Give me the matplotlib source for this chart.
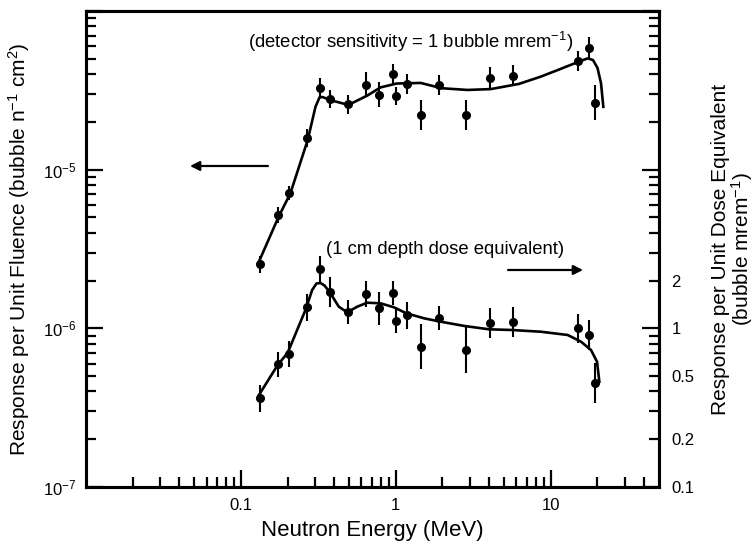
import numpy as np
import matplotlib
matplotlib.use("Agg")
import matplotlib.pyplot as plt
from matplotlib.ticker import FixedLocator, NullFormatter, FuncFormatter

plt.rcParams["font.family"] = ["Liberation Sans", "DejaVu Sans"]
plt.rcParams["mathtext.fontset"] = "custom"
plt.rcParams["mathtext.rm"] = "Liberation Sans"
plt.rcParams["mathtext.it"] = "Liberation Sans:italic"
plt.rcParams["mathtext.default"] = "regular"

# Neutron energies of the measurements (MeV)
energy = [0.1325, 0.174, 0.2035, 0.267, 0.3225, 0.3776, 0.489, 0.640, 0.782, 0.961,
          1.007, 1.183, 1.458, 1.897, 2.84, 4.03, 5.74, 14.95, 17.66, 19.2]

# Response per unit fluence (bubble n^-1 cm^2) and relative uncertainty (%)
fluence_resp = [2.54e-6, 5.18e-6, 7.1e-6, 1.58e-5, 3.27e-5, 2.78e-5, 2.58e-5, 3.42e-5,
                2.96e-5, 4.01e-5, 2.93e-5, 3.47e-5, 2.21e-5, 3.42e-5, 2.22e-5, 3.79e-5,
                3.91e-5, 4.83e-5, 5.87e-5, 2.64e-5]
fluence_err_pct = [13, 13, 11, 14, 15, 14, 15, 20, 20, 16, 14, 16, 24, 16, 24, 17, 16, 16, 17, 29]

# Response per unit dose equivalent (bubble mrem^-1) and relative uncertainty (%)
dose_resp = [0.362, 0.593, 0.689, 1.357, 2.366, 1.702, 1.262, 1.646, 1.337, 1.663,
             1.112, 1.205, 0.766, 1.162, 0.730, 1.080, 1.101, 1.000, 0.908, 0.454]
dose_err_pct = [22, 20, 20, 22, 20, 24, 19, 20, 27, 19, 19, 21, 39, 19, 39, 25, 24, 23, 24, 34]

# Fitted response function, fluence
fit_fl_e = [0.1296, 0.1753, 0.2087, 0.270, 0.303, 0.3215, 0.336, 0.3844, 0.495, 0.654,
            0.797, 1.012, 1.447, 1.978, 2.90, 4.105, 6.23, 8.64, 11.13, 15.15, 17.33,
            18.75, 20.05, 21.12, 21.86]
fit_fl_r = [2.58e-6, 5.06e-6, 7.1e-6, 1.54e-5, 2.49e-5, 2.85e-5, 2.87e-5, 2.73e-5, 2.56e-5,
            2.93e-5, 3.30e-5, 3.49e-5, 3.52e-5, 3.26e-5, 3.18e-5, 3.22e-5, 3.47e-5, 3.86e-5,
            4.25e-5, 4.79e-5, 5.03e-5, 4.91e-5, 4.37e-5, 3.50e-5, 2.49e-5]

# Fitted response function, dose equivalent
fit_de_e = [0.1296, 0.1727, 0.2005, 0.261, 0.2884, 0.3074, 0.3263, 0.3463, 0.373, 0.4285,
            0.4856, 0.5636, 0.654, 0.797, 0.972, 1.169, 1.52, 1.949, 2.786, 4.0, 5.61,
            8.64, 12.86, 15.68, 18.2, 19.9, 20.6]
fit_de_r = [0.3746, 0.587, 0.702, 1.305, 1.744, 1.917, 1.931, 1.862, 1.70, 1.369, 1.262,
            1.369, 1.451, 1.438, 1.357, 1.244, 1.157, 1.101, 1.034, 0.986, 0.976, 0.952,
            0.908, 0.824, 0.730, 0.616, 0.461]

x_major = [0.1, 1, 10]
x_major_labels = ["0.1", "1", "10"]
left_major = [1e-7, 1e-6, 1e-5, 1e-4]
left_labels = {1e-7: r"10$^{-7}$", 1e-6: r"10$^{-6}$", 1e-5: r"10$^{-5}$"}
right_major = [0.1, 1, 10, 100]
right_labels = {0.1: "0.1", 0.2: "0.2", 0.5: "0.5", 1: "1", 2: "2"}


def log_err(vals, pct):
    v = np.asarray(vals)
    f = 1 + np.asarray(pct) / 100.0
    return np.vstack([v - v / f, v * f - v])


W, H = 754, 548
fig = plt.figure(figsize=(W / 100, H / 100), dpi=100)
ax = fig.add_axes([86 / W, (H - 487) / H, 573 / W, 476 / H])
ax2 = ax.twinx()

for a in (ax, ax2):
    a.set_xscale("log")
    a.set_yscale("log")
    for s in a.spines.values():
        s.set_linewidth(2.2)

ax.set_xlim(0.01, 50)
ax.set_ylim(1e-7, 1e-4)
ax2.set_ylim(0.1, 100)

# Fluence response (left axis)
ax.plot(fit_fl_e, fit_fl_r, color="black", lw=1.9, zorder=3)
ax.errorbar(energy, fluence_resp, yerr=log_err(fluence_resp, fluence_err_pct),
            fmt="o", color="black", ms=5.5, elinewidth=1.5, capsize=0, zorder=4)

# Dose-equivalent response (right axis)
ax2.plot(fit_de_e, fit_de_r, color="black", lw=1.9, zorder=3)
ax2.errorbar(energy, dose_resp, yerr=log_err(dose_resp, dose_err_pct),
             fmt="o", color="black", ms=5.5, elinewidth=1.5, capsize=0, zorder=4)

# x axis ticks
minor_x = [k * 10.0 ** e for e in (-2, -1, 0, 1) for k in range(2, 10) if k * 10.0 ** e < 50]
ax.xaxis.set_major_locator(FixedLocator(x_major))
ax.set_xticklabels(x_major_labels)
ax.xaxis.set_minor_locator(FixedLocator(minor_x))
ax.xaxis.set_minor_formatter(NullFormatter())

# left y axis ticks
minor_l = [k * 10.0 ** e for e in (-7, -6, -5) for k in range(2, 10)]
ax.yaxis.set_major_locator(FixedLocator(left_major))
ax.yaxis.set_major_formatter(FuncFormatter(lambda v, p: left_labels.get(v, "")))
ax.yaxis.set_minor_locator(FixedLocator(minor_l))
ax.yaxis.set_minor_formatter(NullFormatter())

# right y axis ticks
minor_r = [k * 10.0 ** e for e in (-1, 0, 1) for k in range(2, 10)]


def right_fmt(v, p):
    for key, lab in right_labels.items():
        if abs(v - key) < 1e-9:
            return lab
    return ""


ax2.yaxis.set_major_locator(FixedLocator(right_major))
ax2.yaxis.set_major_formatter(FuncFormatter(right_fmt))
ax2.yaxis.set_minor_locator(FixedLocator(minor_r))
ax2.yaxis.set_minor_formatter(FuncFormatter(right_fmt))

ax.tick_params(axis="both", which="major", direction="in", length=12, width=1.6,
               labelsize=12, top=False, right=False)
ax.tick_params(axis="both", which="minor", direction="in", length=7, width=1.6,
               top=False, right=False)
ax.tick_params(axis="y", which="major", pad=7)
ax.tick_params(axis="x", which="major", pad=8)
ax2.tick_params(axis="y", which="major", direction="in", length=12, width=1.6,
                labelsize=12, pad=9)
ax2.tick_params(axis="y", which="minor", direction="in", length=7, width=1.6,
                labelsize=12, pad=9)

ax.set_xlabel("Neutron Energy (MeV)", fontsize=16, labelpad=5)
ax.set_ylabel(r"Response per Unit Fluence (bubble n$^{-1}$ cm$^{2}$)", fontsize=15, labelpad=8)
ax2.set_ylabel("Response per Unit Dose Equivalent\n" + r"(bubble mrem$^{-1}$)",
               fontsize=15, labelpad=12, linespacing=0.95)

ax.text(0.2827, 0.935, r"(detector sensitivity = 1 bubble mrem$^{-1}$)",
        transform=ax.transAxes, fontsize=13.3, ha="left", va="center")
ax.text(0.4188, 0.498, "(1 cm depth dose equivalent)",
        transform=ax.transAxes, fontsize=13.3, ha="left", va="center")

arrow = dict(arrowstyle="-|>", color="black", lw=1.6, mutation_scale=14, shrinkA=0, shrinkB=0)
ax.annotate("", xy=(0.1815, 0.6744), xytext=(0.3176, 0.6744),
            xycoords="axes fraction", textcoords="axes fraction", arrowprops=arrow)
ax.annotate("", xy=(0.8674, 0.4559), xytext=(0.7365, 0.4559),
            xycoords="axes fraction", textcoords="axes fraction", arrowprops=arrow)

fig.savefig("out.png", dpi=100, facecolor="white")
